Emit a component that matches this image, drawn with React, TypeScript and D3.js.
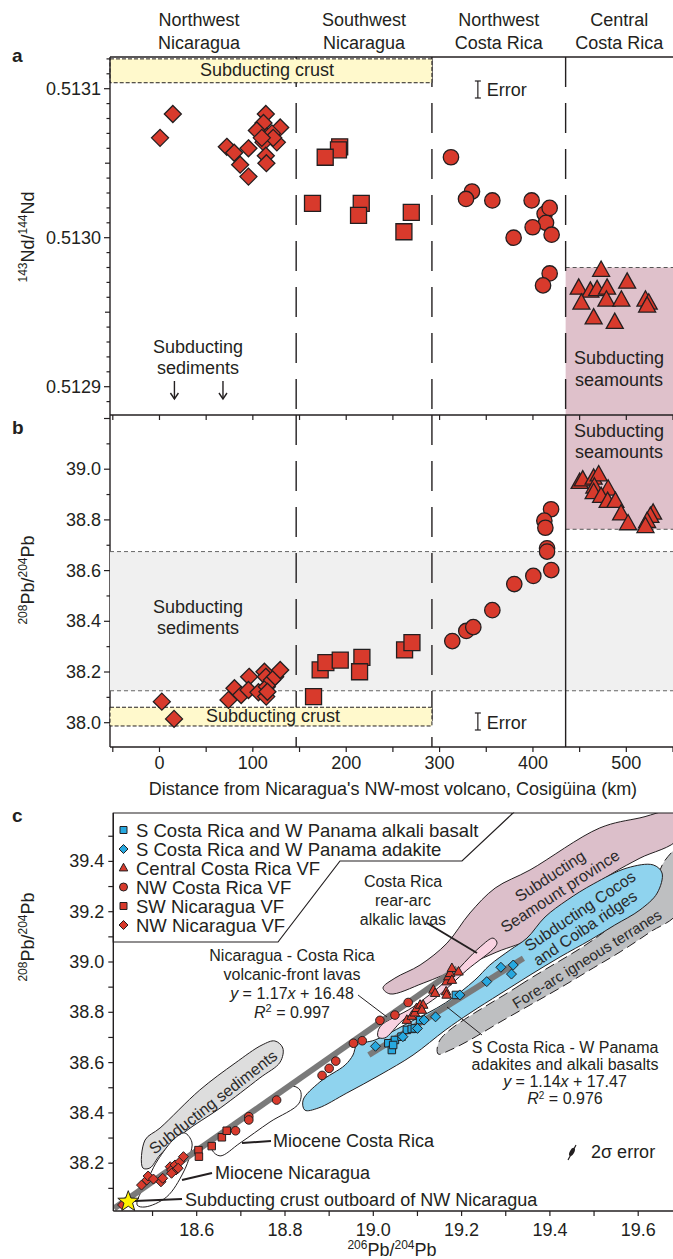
import React, { useEffect } from 'react';
import * as d3 from 'd3';

const FONT = "'Liberation Sans', Arial, Helvetica, sans-serif";
const RED = '#d83a2c';
const BLUE = '#27a8df';
const INK = '#231f20';

// ---- panel a: 143Nd/144Nd against distance along the arc (km, ratio)
const ndNWNicaragua = [[0.6, 0.513067], [14.3, 0.513083], [72.1, 0.513061], [80, 0.513057], [95.3, 0.51306], [86.4, 0.513049], [95.3, 0.513041], [113.9, 0.513083], [111.4, 0.513077], [104.3, 0.513072], [129.3, 0.513074], [115, 0.513068], [125.7, 0.513064], [111.4, 0.513064], [113.9, 0.513055], [114.5, 0.51305], [120.4, 0.51307], [121.8, 0.513067], [109.6, 0.513067]];
const ndSWNicaragua = [[193, 0.513061], [191.7, 0.513059], [177.5, 0.513054], [163.9, 0.513023], [216.1, 0.513023], [213.2, 0.513015], [269.7, 0.513017], [261.8, 0.513004]];
const ndNWCostaRica = [[312.2, 0.513054], [334.7, 0.513031], [328.3, 0.513026], [356.5, 0.513025], [398.6, 0.513025], [412.5, 0.513016], [414, 0.51301], [417.9, 0.51302], [399.7, 0.513007], [420, 0.513002], [379.3, 0.5130], [417.9, 0.512976], [410.8, 0.512968]];
const ndCentralCostaRica = [[473, 0.512978], [449, 0.512966], [461.5, 0.512964], [468.7, 0.512965], [479.4, 0.512966], [500.9, 0.51297], [451.9, 0.512956], [478.7, 0.512958], [494.7, 0.512958], [520.5, 0.512958], [524, 0.512956], [522.3, 0.512954], [465, 0.512946], [487.6, 0.512943]];

// ---- panel b: 208Pb/204Pb against distance (km, ratio)
const pbNWNicaragua = [[2.5, 38.083], [15.6, 38.015], [73.9, 38.09], [80.3, 38.136], [87.5, 38.109], [96, 38.181], [95.3, 38.129], [106, 38.12], [112.4, 38.201], [113.9, 38.181], [115, 38.142], [114.3, 38.103], [120.4, 38.168], [123.9, 38.181], [129.3, 38.208], [115.6, 38.122]];
const pbSWNicaragua = [[165, 38.103], [172.1, 38.208], [178.2, 38.237], [193.6, 38.247], [216.8, 38.258], [214.3, 38.201], [262.5, 38.287], [270.4, 38.316]];
const pbNWCostaRica = [[313.6, 38.322], [328.6, 38.362], [336.1, 38.377], [356.5, 38.444], [380, 38.547], [400.4, 38.579], [419.6, 38.602], [419.4, 38.842], [412.2, 38.797], [413.3, 38.769], [415.1, 38.688], [415.1, 38.675]];
const pbCentralCostaRica = [[450, 38.947], [453.3, 38.957], [465, 38.964], [470.4, 38.977], [465.8, 38.929], [465, 38.907], [480.5, 38.921], [473, 38.892], [480, 38.872], [488.3, 38.872], [494.4, 38.823], [501.9, 38.784], [528.7, 38.826], [525.8, 38.813], [522.3, 38.793], [520.5, 38.773]];

// reference fields in panels a and b
const regionEdgesKm = [-53, 146.4, 291.8, 435, 550];
const regionNames = [['Northwest', 'Nicaragua'], ['Southwest', 'Nicaragua'], ['Northwest', 'Costa Rica'], ['Central', 'Costa Rica']];
const crustNd = [0.513104, 0.51312];
const seamountNd = [0.51288, 0.51298];
const crustPb = [37.987, 38.061];
const sedimentPb = [38.126, 38.675];
const seamountPb = [38.763, 39.214];

// ---- panel c: 206Pb/204Pb vs 208Pb/204Pb
const cNWNicaragua = [[18.432, 38.034], [18.475, 38.113], [18.487, 38.133], [18.49, 38.149], [18.502, 38.137], [18.519, 38.126], [18.523, 38.14], [18.54, 38.186], [18.543, 38.173], [18.551, 38.193], [18.553, 38.173], [18.562, 38.206], [18.57, 38.226], [18.543, 38.16], [18.558, 38.18]];
const cSWNicaragua = [[18.604, 38.252], [18.605, 38.226], [18.634, 38.268], [18.657, 38.303], [18.668, 38.329]];
const cNWCostaRica = [[18.688, 38.329], [18.718, 38.385], [18.718, 38.372], [18.781, 38.451], [18.884, 38.549], [18.9, 38.577], [18.915, 38.606], [18.955, 38.677], [18.975, 38.687], [19.015, 38.768], [19.049, 38.789], [19.079, 38.839]];
const cCentralCostaRica = [[19.076, 38.769], [19.087, 38.785], [19.094, 38.798], [19.098, 38.816], [19.106, 38.829], [19.113, 38.829], [19.11, 38.809], [19.136, 38.889], [19.14, 38.876], [19.165, 38.882], [19.166, 38.922], [19.17, 38.942], [19.174, 38.955], [19.178, 38.975], [19.193, 38.961], [19.178, 38.928], [19.166, 38.869]];
const cAlkaliBasalt = [[19.034, 38.677], [19.042, 38.65], [19.049, 38.69], [19.045, 38.67], [19.064, 38.703], [19.076, 38.73], [19.087, 38.734], [19.094, 38.736], [19.106, 38.769], [19.187, 38.869]];
const cAdakite = [[19.005, 38.665], [19.067, 38.703], [19.1, 38.736], [19.115, 38.769], [19.141, 38.782], [19.196, 38.869], [19.257, 38.922], [19.289, 38.979], [19.317, 38.988], [19.313, 38.952]];
const crustOutboard = [18.445, 38.047];

const regLineVF = [[18.413, 38.02], [19.19, 38.975]];
const regLineSCR = [[18.99, 38.63], [19.34, 39.015]];

const seamountProvince = [[19.022, 38.897], [19.049, 38.936], [19.106, 38.988], [19.167, 39.075], [19.219, 39.195], [19.276, 39.294], [19.355, 39.366], [19.513, 39.533], [19.604, 39.573], [19.69, 39.6], [19.69, 39.49], [19.604, 39.413], [19.543, 39.354], [19.468, 39.266], [19.423, 39.207], [19.362, 39.099], [19.28, 39.04], [19.196, 38.976], [19.113, 38.916], [19.038, 38.873]];
const foreArcTerranes = [[19.151, 38.69], [19.332, 38.908], [19.513, 39.107], [19.627, 39.286], [19.661, 39.405], [19.69, 39.45], [19.69, 39.199], [19.627, 39.119], [19.559, 39.04], [19.498, 38.976], [19.423, 38.897], [19.355, 38.829], [19.287, 38.761], [19.219, 38.69], [19.174, 38.65], [19.147, 38.634]];
const cocosCoibaRidges = [[18.845, 38.411], [18.841, 38.451], [18.879, 38.523], [18.936, 38.59], [18.954, 38.63], [18.963, 38.67], [19.004, 38.69], [19.083, 38.761], [19.163, 38.837], [19.23, 38.928], [19.264, 38.988], [19.31, 39.048], [19.348, 39.095], [19.389, 39.179], [19.439, 39.246], [19.498, 39.31], [19.575, 39.374], [19.634, 39.386], [19.654, 39.354], [19.643, 39.274], [19.604, 39.207], [19.547, 39.147], [19.491, 39.087], [19.423, 39.02], [19.355, 38.948], [19.287, 38.873], [19.219, 38.797], [19.163, 38.729], [19.09, 38.63], [19.015, 38.551], [18.94, 38.479], [18.875, 38.419]];
const rearArcLavas = [[19.011, 38.702], [19.015, 38.742], [19.09, 38.821], [19.167, 38.928], [19.242, 39.06], [19.271, 39.095], [19.28, 39.079], [19.276, 39.06], [19.212, 38.968], [19.144, 38.861], [19.067, 38.769], [19.026, 38.698]];
const subductingSediments = [[18.478, 38.181], [18.483, 38.292], [18.517, 38.34], [18.607, 38.491], [18.687, 38.598], [18.748, 38.67], [18.777, 38.686], [18.795, 38.658], [18.789, 38.602], [18.743, 38.539], [18.653, 38.419], [18.573, 38.324], [18.517, 38.233], [18.494, 38.181]];
const mioceneNicaragua = [[18.465, 38.034], [18.494, 38.153], [18.512, 38.213], [18.551, 38.3], [18.573, 38.32], [18.589, 38.284], [18.585, 38.233], [18.569, 38.161], [18.532, 38.066], [18.483, 38.026]];
const mioceneCostaRica = [[18.635, 38.292], [18.721, 38.399], [18.811, 38.507], [18.834, 38.491], [18.832, 38.439], [18.766, 38.364], [18.698, 38.28], [18.653, 38.229], [18.635, 38.252]];

const legendItems = [
  { label: 'S Costa Rica and W Panama alkali basalt', type: 'square', fill: BLUE },
  { label: 'S Costa Rica and W Panama adakite', type: 'diamond', fill: BLUE },
  { label: 'Central Costa Rica VF', type: 'triangle', fill: RED },
  { label: 'NW Costa Rica VF', type: 'circle', fill: RED },
  { label: 'SW Nicaragua VF', type: 'square', fill: RED },
  { label: 'NW Nicaragua VF', type: 'diamond', fill: RED },
];

function markPath(type, x, y, s) {
  if (type === 'square') return `M${x - s / 2},${y - s / 2}h${s}v${s}h${-s}Z`;
  if (type === 'diamond') return `M${x},${y - s}L${x + s},${y}L${x},${y + s}L${x - s},${y}Z`;
  if (type === 'triangle') {
    const h = s * 0.9;
    return `M${x},${y - h * 0.62}L${x + s / 2},${y + h * 0.38}L${x - s / 2},${y + h * 0.38}Z`;
  }
  return `M${x - s},${y}a${s},${s} 0 1,0 ${2 * s},0a${s},${s} 0 1,0 ${-2 * s},0Z`;
}

function starPath(x, y, ro, ri) {
  const pts = d3.range(10).map(i => {
    const r = i % 2 ? ri : ro;
    const a = -Math.PI / 2 + (i * Math.PI) / 5;
    return [x + r * Math.cos(a), y + r * Math.sin(a)];
  });
  return 'M' + pts.map(p => p.join(',')).join('L') + 'Z';
}

const IsoLabel = ({ x, y, a, b, el }) => (
  <text transform={`translate(${x},${y}) rotate(-90)`} textAnchor="middle" fontSize={18} fill={INK}>
    <tspan fontSize={12} dy={-7}>{a}</tspan>
    <tspan dy={7}>{el}/</tspan>
    <tspan fontSize={12} dy={-7}>{b}</tspan>
    <tspan dy={7}>{el}</tspan>
  </text>
);

export default function App() {
  useEffect(() => {
    document.body.style.margin = '0';
  }, []);

  const left = 110, right = 673, aTop = 57, abMid = 415, bBot = 747;
  const cLeft = 113.3, cTop = 813, cBot = 1211;

  const xKm = d3.scaleLinear().domain([-53, 550]).range([left, right]);
  const yNd = d3.scaleLinear().domain([0.5129, 0.5131]).range([386.7, 88.7]);
  const yPb = d3.scaleLinear().domain([38.0, 39.0]).range([722.7, 469.2]);
  const xC = d3.scaleLinear().domain([18.6, 19.6]).range([196.7, 638.2]);
  const yC = d3.scaleLinear().domain([38.0, 39.4]).range([1213.5, 861.4]);

  const sizeAB = { square: 16, diamond: 8.5, circle: 7.7, triangle: 17 };
  const sizeC = { square: 7.5, diamond: 5, circle: 4.3, triangle: 9.5 };

  const seriesA = [
    { data: ndNWNicaragua, type: 'diamond' },
    { data: ndSWNicaragua, type: 'square' },
    { data: ndNWCostaRica, type: 'circle' },
    { data: ndCentralCostaRica, type: 'triangle' },
  ];
  const seriesB = [
    { data: pbNWNicaragua, type: 'diamond' },
    { data: pbSWNicaragua, type: 'square' },
    { data: pbNWCostaRica, type: 'circle' },
    { data: pbCentralCostaRica, type: 'triangle' },
  ];
  const seriesC = [
    { data: cNWNicaragua, type: 'diamond', fill: RED },
    { data: cSWNicaragua, type: 'square', fill: RED },
    { data: cNWCostaRica, type: 'circle', fill: RED },
    { data: cAlkaliBasalt, type: 'square', fill: BLUE },
    { data: cAdakite, type: 'diamond', fill: BLUE },
    { data: cCentralCostaRica, type: 'triangle', fill: RED },
  ];

  const area = d3.line<number[]>()
    .x(d => xC(d[0]))
    .y(d => yC(d[1]))
    .curve(d3.curveCatmullRomClosed.alpha(0.5));

  const kmTicks = d3.range(-50, 551, 50);
  const ndTicks = d3.range(51289, 51313);
  const pbTicks = d3.range(380, 393);
  const cxTicks = d3.range(185, 197);
  const cyTicks = d3.range(381, 396);

  const divider = (km, y1, y2, dashed = true) => (
    <line x1={xKm(km)} x2={xKm(km)} y1={y1} y2={y2} stroke={INK} strokeWidth={1.4}
      strokeDasharray={dashed ? '30 16' : undefined} />
  );

  return (
    <svg width={673} height={1259} style={{ position: 'absolute', left: 0, top: 0, background: '#fff' }}
      fontFamily={FONT}>
      <defs>
        <clipPath id="clipC"><rect x={cLeft} y={cTop} width={right - cLeft} height={cBot - cTop} /></clipPath>
      </defs>

      {/* region headers */}
      {regionNames.map((n, i) => {
        const cx = xKm((regionEdgesKm[i] + regionEdgesKm[i + 1]) / 2) - (i === 0 ? 4 : 0);
        return (
          <text key={i} x={cx} textAnchor="middle" fontSize={18} fill={INK}>
            <tspan x={cx} y={26}>{n[0]}</tspan>
            <tspan x={cx} y={49}>{n[1]}</tspan>
          </text>
        );
      })}

      {/* ---------- panel a ---------- */}
      <text x={12} y={62} fontSize={19} fontWeight="bold" fill={INK}>a</text>
      <rect x={xKm(435)} y={yNd(seamountNd[1])} width={right - xKm(435)} height={abMid - yNd(seamountNd[1])} fill="#dfc1cb" />
      <line x1={xKm(435)} x2={right} y1={yNd(seamountNd[1])} y2={yNd(seamountNd[1])} stroke="#555" strokeDasharray="4 3" />
      {divider(146.4, aTop, abMid)}
      {divider(291.8, aTop, abMid)}
      {divider(435, aTop, abMid)}
      <rect x={left} y={yNd(crustNd[1])} width={xKm(291.8) - left} height={yNd(crustNd[0]) - yNd(crustNd[1])}
        fill="#fff9cc" stroke={INK} strokeDasharray="4 2" strokeWidth={1} />
      <text x={(left + xKm(291.8)) / 2 - 4} y={76} textAnchor="middle" fontSize={18} fill={INK}>Subducting crust</text>

      <line x1={left} x2={right} y1={aTop} y2={aTop} stroke={INK} strokeWidth={1.4} />
      <line x1={left} x2={left} y1={aTop} y2={bBot} stroke={INK} strokeWidth={1.4} />
      {ndTicks.map(i => {
        const y = yNd(i / 100000);
        const len = i % 10 === 0 ? 6 : i % 5 === 0 ? 5 : 3.5;
        return <line key={i} x1={left - len} x2={left} y1={y} y2={y} stroke={INK} strokeWidth={1.2} />;
      })}
      {ndTicks.filter(i => i % 10 === 0).map(i => (
        <text key={i} x={left - 9} y={yNd(i / 100000) + 6} textAnchor="end" fontSize={18} fill={INK}>{(i / 100000).toFixed(4)}</text>
      ))}
      <IsoLabel x={34} y={237} a="143" b="144" el="Nd" />

      {/* error bar a */}
      <g stroke={INK} strokeWidth={1.2}>
        <line x1={xKm(341)} x2={xKm(341)} y1={81} y2={98} />
        <line x1={xKm(341) - 3} x2={xKm(341) + 3} y1={81} y2={81} />
        <line x1={xKm(341) - 3} x2={xKm(341) + 3} y1={98} y2={98} />
      </g>
      <text x={xKm(341) + 9} y={96} fontSize={18} fill={INK}>Error</text>

      <text textAnchor="middle" fontSize={18} fill={INK}>
        <tspan x={198} y={353}>Subducting</tspan>
        <tspan x={198} y={374}>sediments</tspan>
      </text>
      {[16, 68].map(km => (
        <g key={km} stroke={INK} strokeWidth={1.4} fill="none">
          <line x1={xKm(km)} x2={xKm(km)} y1={381} y2={399} />
          <path d={`M${xKm(km) - 4},${393}L${xKm(km)},${399}L${xKm(km) + 4},${393}`} />
        </g>
      ))}
      <text textAnchor="middle" fontSize={18} fill={INK}>
        <tspan x={619} y={364}>Subducting</tspan>
        <tspan x={619} y={386}>seamounts</tspan>
      </text>

      {seriesA.map((s, k) => (
        <g key={k}>
          {s.data.map((d, i) => (
            <path key={i} d={markPath(s.type, xKm(d[0]), yNd(d[1]), sizeAB[s.type])} fill={RED} stroke={INK} strokeWidth={1.3} />
          ))}
        </g>
      ))}

      {/* ---------- panel b ---------- */}
      <text x={12} y={434} fontSize={19} fontWeight="bold" fill={INK}>b</text>
      <rect x={left} y={yPb(sedimentPb[1])} width={right - left} height={yPb(sedimentPb[0]) - yPb(sedimentPb[1])} fill="#f0f0f0" />
      <line x1={left} x2={right} y1={yPb(sedimentPb[1])} y2={yPb(sedimentPb[1])} stroke="#666" strokeDasharray="4 3" />
      <line x1={left} x2={right} y1={yPb(sedimentPb[0])} y2={yPb(sedimentPb[0])} stroke="#666" strokeDasharray="4 3" />
      <rect x={xKm(435)} y={abMid} width={right - xKm(435)} height={yPb(seamountPb[0]) - abMid} fill="#dfc1cb" />
      <line x1={xKm(435)} x2={right} y1={yPb(seamountPb[0])} y2={yPb(seamountPb[0])} stroke="#555" strokeDasharray="4 3" />
      {divider(146.4, abMid, bBot)}
      {divider(291.8, abMid, bBot)}
      {divider(435, abMid, bBot, false)}
      <rect x={left} y={yPb(crustPb[1])} width={xKm(291.8) - left} height={yPb(crustPb[0]) - yPb(crustPb[1])}
        fill="#fff9cc" stroke={INK} strokeDasharray="4 2" strokeWidth={1} />
      <text x={273} y={722} textAnchor="middle" fontSize={18} fill={INK}>Subducting crust</text>
      <text textAnchor="middle" fontSize={18} fill={INK}>
        <tspan x={198} y={613}>Subducting</tspan>
        <tspan x={198} y={634}>sediments</tspan>
      </text>
      <text textAnchor="middle" fontSize={18} fill={INK}>
        <tspan x={619} y={437}>Subducting</tspan>
        <tspan x={619} y={458}>seamounts</tspan>
      </text>
      <g stroke={INK} strokeWidth={1.2}>
        <line x1={xKm(341)} x2={xKm(341)} y1={713} y2={730} />
        <line x1={xKm(341) - 3} x2={xKm(341) + 3} y1={713} y2={713} />
        <line x1={xKm(341) - 3} x2={xKm(341) + 3} y1={730} y2={730} />
      </g>
      <text x={xKm(341) + 9} y={729} fontSize={18} fill={INK}>Error</text>

      <line x1={left} x2={right} y1={abMid} y2={abMid} stroke={INK} strokeWidth={1.4} />
      <line x1={left} x2={right} y1={bBot} y2={bBot} stroke={INK} strokeWidth={1.4} />
      {kmTicks.map(k => (
        <g key={k} stroke={INK} strokeWidth={1.2}>
          <line x1={xKm(k)} x2={xKm(k)} y1={abMid} y2={abMid + 5} />
          <line x1={xKm(k)} x2={xKm(k)} y1={bBot} y2={bBot + 5} />
        </g>
      ))}
      {kmTicks.filter(k => k >= 0 && k % 100 === 0).map(k => (
        <text key={k} x={xKm(k)} y={769} textAnchor="middle" fontSize={18} fill={INK}>{k}</text>
      ))}
      <text x={393} y={795} textAnchor="middle" fontSize={18} fill={INK}>Distance from Nicaragua's NW-most volcano, Cosigüina (km)</text>
      {pbTicks.map(i => {
        const y = yPb(i / 10);
        return <line key={i} x1={left - (i % 2 === 0 ? 6 : 3.5)} x2={left} y1={y} y2={y} stroke={INK} strokeWidth={1.2} />;
      })}
      {pbTicks.filter(i => i % 2 === 0 && i <= 390).map(i => (
        <text key={i} x={left - 9} y={yPb(i / 10) + 6} textAnchor="end" fontSize={18} fill={INK}>{(i / 10).toFixed(1)}</text>
      ))}
      <IsoLabel x={34} y={580} a="208" b="204" el="Pb" />

      {seriesB.map((s, k) => (
        <g key={k}>
          {s.data.map((d, i) => (
            <path key={i} d={markPath(s.type, xKm(d[0]), yPb(d[1]), sizeAB[s.type])} fill={RED} stroke={INK} strokeWidth={1.3} />
          ))}
        </g>
      ))}

      {/* ---------- panel c ---------- */}
      <text x={12} y={822} fontSize={19} fontWeight="bold" fill={INK}>c</text>
      <g clipPath="url(#clipC)">
        <path d={area(seamountProvince)} fill="#dcbfca" stroke={INK} strokeWidth={1} />
        <path d={area(foreArcTerranes)} fill="#bebfc1" stroke={INK} strokeWidth={1} strokeDasharray="10 5" />
        <path d={area(cocosCoibaRidges)} fill="#8fd3ee" stroke={INK} strokeWidth={1} />
        <path d={area(rearArcLavas)} fill="#f9d2e1" stroke={INK} strokeWidth={1} />
        <path d={area(subductingSediments)} fill="#dddddd" stroke={INK} strokeWidth={1} />
        <path d={area(mioceneNicaragua)} fill="#fff" stroke={INK} strokeWidth={1} />
        <path d={area(mioceneCostaRica)} fill="#fff" stroke={INK} strokeWidth={1} />

        {[regLineVF, regLineSCR].map((l, i) => (
          <line key={i} x1={xC(l[0][0])} y1={yC(l[0][1])} x2={xC(l[1][0])} y2={yC(l[1][1])} stroke="#7a7a7a" strokeWidth={6} />
        ))}

        {seriesC.map((s, k) => (
          <g key={k}>
            {s.data.map((d, i) => (
              <path key={i} d={markPath(s.type, xC(d[0]), yC(d[1]), sizeC[s.type])} fill={s.fill} stroke={INK} strokeWidth={1} />
            ))}
          </g>
        ))}
        <path d={starPath(xC(crustOutboard[0]), yC(crustOutboard[1]), 11, 4.5)} fill="#fff200" stroke={INK} strokeWidth={1} />
      </g>

      {/* rotated field labels */}
      <g fontSize={16} fill="#2a2a2a" textAnchor="middle">
        <text transform="translate(213,1102) rotate(-38)" dy="0.35em">Subducting sediments</text>
        <text transform="translate(550,876) rotate(-33)" dy="0.35em">Subducting</text>
        <text transform="translate(560,891) rotate(-33)" dy="0.35em">Seamount province</text>
        <text transform="translate(580,911) rotate(-34)" dy="0.35em">Subducting Cocos</text>
        <text transform="translate(585,928) rotate(-34)" dy="0.35em">and Coiba ridges</text>
        <text transform="translate(587,959) rotate(-32)" dy="0.35em" fontSize={15}>Fore-arc igneous terranes</text>
      </g>

      {/* leaders and annotations */}
      <g stroke={INK} fill="none">
        <line x1={427} y1={923} x2={477} y2={953} strokeWidth={2} />
        <line x1={358} y1={995} x2={387} y2={1017} strokeWidth={1} />
        <line x1={447} y1={1007} x2={482} y2={1035} strokeWidth={1} />
        <line x1={242} y1={1143} x2={271} y2={1141} strokeWidth={2} />
        <line x1={182} y1={1180} x2={212} y2={1173} strokeWidth={2} />
        <line x1={135} y1={1201} x2={182} y2={1199} strokeWidth={2} />
      </g>
      <g fontSize={16} fill={INK} textAnchor="middle">
        <text><tspan x={403} y={887}>Costa Rica</tspan><tspan x={403} y={906}>rear-arc</tspan><tspan x={403} y={925}>alkalic lavas</tspan></text>
        <text>
          <tspan x={292} y={961}>Nicaragua - Costa Rica</tspan>
          <tspan x={292} y={980}>volcanic-front lavas</tspan>
          <tspan x={292} y={999}><tspan fontStyle="italic">y</tspan> = 1.17<tspan fontStyle="italic">x</tspan> + 16.48</tspan>
          <tspan x={292} y={1018}><tspan fontStyle="italic">R</tspan><tspan fontSize={11} dy={-6}>2</tspan><tspan dy={6}> = 0.997</tspan></tspan>
        </text>
        <text>
          <tspan x={565} y={1053}>S Costa Rica - W Panama</tspan>
          <tspan x={565} y={1070}>adakites and alkali basalts</tspan>
          <tspan x={565} y={1087}><tspan fontStyle="italic">y</tspan> = 1.14<tspan fontStyle="italic">x</tspan> + 17.47</tspan>
          <tspan x={565} y={1104}><tspan fontStyle="italic">R</tspan><tspan fontSize={10} dy={-5}>2</tspan><tspan dy={5}> = 0.976</tspan></tspan>
        </text>
      </g>
      <g fontSize={18} fill={INK}>
        <text x={273} y={1147}>Miocene Costa Rica</text>
        <text x={215} y={1179}>Miocene Nicaragua</text>
        <text x={185} y={1206}>Subducting crust outboard of NW Nicaragua</text>
        <text x={591} y={1158}>2σ error</text>
      </g>
      <g>
        <line x1={568} y1={1160} x2={576} y2={1145} stroke={INK} strokeWidth={1.2} />
        <ellipse cx={572} cy={1152} rx={2.2} ry={4.5} transform="rotate(28,572,1152)" fill={INK} />
      </g>

      {/* legend */}
      <path d={`M${cLeft},${cTop}L513,${cTop}L462,861L340,861L278,942L${cLeft},942Z`} fill="#fff" stroke={INK} strokeWidth={1.2} />
      {legendItems.map((it, i) => {
        const y = 830 + i * 19;
        const s = it.type === 'square' ? 7 : it.type === 'diamond' ? 4.5 : it.type === 'circle' ? 4 : 8.5;
        return (
          <g key={i}>
            <path d={markPath(it.type, 123.5, y, s)} fill={it.fill} stroke={INK} strokeWidth={1} />
            <text x={136} y={y + 6.5} fontSize={18.5} fill={INK}>{it.label}</text>
          </g>
        );
      })}

      {/* axes c */}
      <line x1={cLeft} x2={cLeft} y1={cTop} y2={cBot} stroke={INK} strokeWidth={1.4} />
      <line x1={cLeft} x2={right} y1={cBot} y2={cBot} stroke={INK} strokeWidth={1.4} />
      <line x1={513} x2={right} y1={cTop} y2={cTop} stroke={INK} strokeWidth={1.2} />
      {cxTicks.map(i => (
        <line key={i} x1={xC(i / 10)} x2={xC(i / 10)} y1={cBot} y2={cBot + 5} stroke={INK} strokeWidth={1.2} />
      ))}
      {cxTicks.filter(i => i % 2 === 0).map(i => (
        <text key={i} x={xC(i / 10)} y={1236} textAnchor="middle" fontSize={18} fill={INK}>{(i / 10).toFixed(1)}</text>
      ))}
      {cyTicks.map(i => (
        <line key={i} x1={cLeft - 5} x2={cLeft} y1={yC(i / 10)} y2={yC(i / 10)} stroke={INK} strokeWidth={1.2} />
      ))}
      {cyTicks.filter(i => i % 2 === 0).map(i => (
        <text key={i} x={cLeft - 9} y={yC(i / 10) + 6} textAnchor="end" fontSize={18} fill={INK}>{(i / 10).toFixed(1)}</text>
      ))}
      <IsoLabel x={34} y={937} a="208" b="204" el="Pb" />
      <text x={392} y={1256} textAnchor="middle" fontSize={18} fill={INK}>
        <tspan fontSize={12} dy={-7}>206</tspan><tspan dy={7}>Pb/</tspan><tspan fontSize={12} dy={-7}>204</tspan><tspan dy={7}>Pb</tspan>
      </text>
    </svg>
  );
}
